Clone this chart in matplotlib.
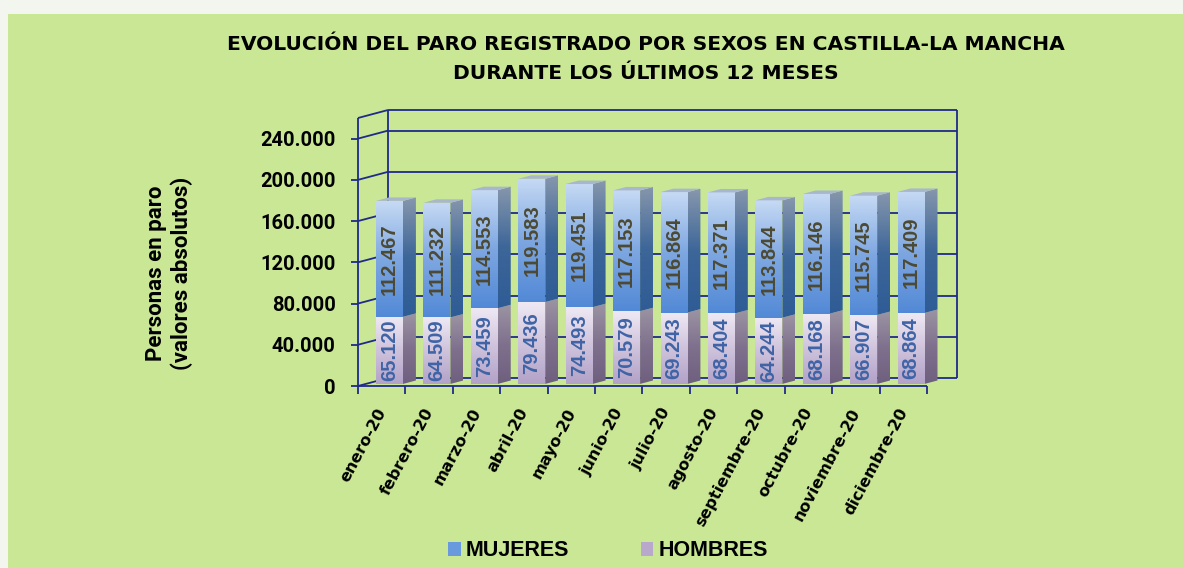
"""Paro registrado por sexos en Castilla-La Mancha (2020), 3D-style stacked bars."""

import numpy as np
import matplotlib

matplotlib.use("Agg")
import matplotlib.pyplot as plt
from matplotlib.colors import LinearSegmentedColormap
from matplotlib.patches import Patch, Polygon, Rectangle
from matplotlib.transforms import ScaledTranslation

# --- data -------------------------------------------------------------------
months = ["enero-20", "febrero-20", "marzo-20", "abril-20", "mayo-20", "junio-20",
          "julio-20", "agosto-20", "septiembre-20", "octubre-20", "noviembre-20",
          "diciembre-20"]
mujeres = [112467, 111232, 114553, 119583, 119451, 117153,
           116864, 117371, 113844, 116146, 115745, 117409]
hombres = [65120, 64509, 73459, 79436, 74493, 70579,
           69243, 68404, 64244, 68168, 66907, 68864]
y_ticks = [0, 40000, 80000, 120000, 160000, 200000, 240000]
y_max = 260000

title_1 = "EVOLUCIÓN DEL PARO REGISTRADO POR SEXOS EN CASTILLA-LA MANCHA"
title_2 = "DURANTE LOS ÚLTIMOS 12 MESES"

# --- style ------------------------------------------------------------------
NAVY = "#1f2a8a"
GREEN = "#c9e795"
MUJ_FRONT = LinearSegmentedColormap.from_list("mf", ["#c6daf4", "#7ea7e1", "#5289d6"])
MUJ_SIDE = LinearSegmentedColormap.from_list("ms", ["#8797ad", "#3d6699", "#2f5c96"])
HOM_FRONT = LinearSegmentedColormap.from_list("hf", ["#efe9f4", "#cfc3dc", "#b2a2c8"])
HOM_SIDE = LinearSegmentedColormap.from_list("hs", ["#9c94a3", "#7f718e", "#6e5f7e"])
MUJ_TOP = "#a8b7cc"
MUJ_TXT = "#4c4a33"
HOM_TXT = "#3f64a6"
AXIS_FONT = "Roboto"

W, H = 1183, 568
fig = plt.figure(figsize=(W / 100, H / 100), dpi=100, facecolor="#f3f6ee")
fig.patches.append(Rectangle((8 / W, 0), 1, (H - 14) / H, transform=fig.transFigure,
                             facecolor=GREEN, edgecolor="none", zorder=-10))

ax = fig.add_axes([358 / W, (H - 386) / H, (927 - 358) / W, (386 - 118) / H])
ax.patch.set_visible(False)
for s in ax.spines.values():
    s.set_visible(False)
ax.set_xlim(-0.5, 11.5)
ax.set_ylim(0, y_max)

# depth of the 3D box, converted from pixels to data units
bb = ax.get_window_extent()
px_x = bb.width / 12
px_y = bb.height / y_max
DX = 30 / px_x
DY = 8 / px_y
F0, F1 = 0.26, 0.69      # bar depth span (fraction of box depth)
BAR_W = 27 / px_x


def at(x, y, f):
    return (x + f * DX, y + f * DY)


def line(p, q, z=1):
    ax.plot([p[0], q[0]], [p[1], q[1]], color=NAVY, lw=1.3, zorder=z,
            clip_on=False, solid_capstyle="butt")


def paint(verts, cmap, z):
    poly = Polygon(verts, closed=True, facecolor="none", edgecolor="none")
    ax.add_patch(poly)
    xs = [v[0] for v in verts]
    ys = [v[1] for v in verts]
    im = ax.imshow(np.linspace(0, 1, 256).reshape(-1, 1), cmap=cmap, origin="upper",
                   extent=(min(xs), max(xs), min(ys), max(ys)), aspect="auto",
                   interpolation="bilinear", zorder=z)
    im.set_clip_path(poly)
    im.set_clip_box(fig.bbox)


# --- walls ------------------------------------------------------------------
levels = y_ticks + [y_max]
for v in levels:
    line(at(-0.5, v, 0), at(-0.5, v, 1))
    line(at(-0.5, v, 1), at(11.5, v, 1))
line(at(-0.5, 0, 1), at(-0.5, y_max, 1))
line(at(11.5, 0, 1), at(11.5, y_max, 1))
line(at(-0.5, 0, 0), at(-0.5, y_max, 0), z=2)
line(at(-0.5, 0, 0), at(11.5, 0, 0), z=2)

# --- bars -------------------------------------------------------------------
for i in range(len(months)):
    x0, x1 = i - BAR_W / 2, i + BAR_W / 2
    segs = [(0, hombres[i], HOM_FRONT, HOM_SIDE, HOM_TXT),
            (hombres[i], hombres[i] + mujeres[i], MUJ_FRONT, MUJ_SIDE, MUJ_TXT)]
    for lo, hi, cf, cs, tc in segs:
        paint([at(x0, lo, F0), at(x1, lo, F0), at(x1, hi, F0), at(x0, hi, F0)], cf, 3)
        paint([at(x1, lo, F0), at(x1, lo, F1), at(x1, hi, F1), at(x1, hi, F0)], cs, 3)
        cx, cy = at(i, (lo + hi) / 2, F0)
        ax.text(cx, cy, f"{hi - lo:,}".replace(",", "."), rotation=90, ha="center",
                va="center", color=tc, fontsize=14.5, fontweight="bold",
                family="Liberation Sans", zorder=5)
    top = hombres[i] + mujeres[i]
    ax.add_patch(Polygon([at(x0, top, F0), at(x1, top, F0), at(x1, top, F1),
                          at(x0, top, F1)], closed=True, facecolor=MUJ_TOP,
                         edgecolor="none", zorder=3, clip_on=False))

ax.set_xlim(-0.5, 11.5)
ax.set_ylim(0, y_max)

# --- ticks ------------------------------------------------------------------
ax.set_yticks(y_ticks)
ax.set_yticklabels([f"{v:,}".replace(",", ".") for v in y_ticks],
                   fontsize=14.5, fontweight="bold", family=AXIS_FONT)
ax.tick_params(axis="y", direction="out", length=5, width=1.3, color=NAVY, pad=11)

ax.set_xticks(range(len(months)))
ax.set_xticks(np.arange(-0.5, 12), minor=True)
ax.set_xticklabels(months, rotation=62, ha="right", va="top",
                   fontsize=11.5, fontweight="bold", family="DejaVu Sans")
ax.tick_params(axis="x", which="major", length=0, pad=14)
ax.tick_params(axis="x", which="minor", direction="out", length=6, width=1.3, color=NAVY)
shift = ScaledTranslation(7 / 100, 0, fig.dpi_scale_trans)
for lab in ax.get_xticklabels():
    lab.set_transform(lab.get_transform() + shift)

# --- texts ------------------------------------------------------------------
fig.text(646 / W, 1 - 44 / H, title_1, ha="center", va="center", fontsize=14.6,
         fontweight="bold", family="DejaVu Sans")
fig.text(646 / W, 1 - 74 / H, title_2, ha="center", va="center", fontsize=14.6,
         fontweight="bold", family="DejaVu Sans")
fig.text(169 / W, 1 - 273 / H, "Personas en paro\n(valores absolutos)", rotation=90,
         ha="center", va="center", fontsize=16, fontweight="bold", family=AXIS_FONT,
         linespacing=1.15)

handles = [Patch(facecolor="#6a9ade", edgecolor="none", label="MUJERES"),
           Patch(facecolor="#b8a8cc", edgecolor="none", label="HOMBRES")]
fig.legend(handles=handles, loc="center", bbox_to_anchor=(608 / W, 1 - 551 / H),
           ncol=2, frameon=False, handlelength=0.6, handleheight=0.6,
           handletextpad=0.25, columnspacing=3.3,
           prop={"family": "Liberation Sans", "weight": "bold", "size": 15.5})

fig.savefig("out.png", dpi=100, facecolor=fig.get_facecolor())
